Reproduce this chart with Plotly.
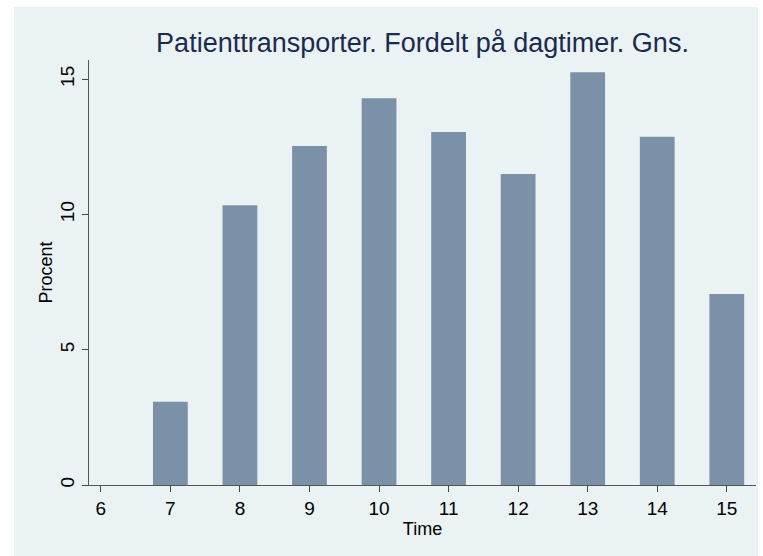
import plotly.graph_objects as go

hours = [6, 7, 8, 9, 10, 11, 12, 13, 14, 15]
procent = [0, 3.08, 10.34, 12.53, 14.30, 13.05, 11.50, 15.26, 12.87, 7.06]
title_text = "Patienttransporter. Fordelt på dagtimer. Gns."
x_title = "Time"
y_title = "Procent"
y_ticks = [0, 5, 10, 15]

W, H = 763, 556
L, R, T, B = 89, 7, 60, 71
pw = W - L - R
ph = H - T - B

def px_x(p):
    return (p - L) / pw

def px_y(p):
    return (H - B - p) / ph

FONT = "Liberation Sans, Arial, sans-serif"

fig = go.Figure()
fig.add_trace(go.Bar(
    x=hours, y=procent, width=0.5,
    marker=dict(color="#7B91A8", line=dict(width=0)),
    hoverinfo="x+y",
))

fig.update_layout(
    width=W, height=H,
    margin=dict(l=L, r=R, t=T, b=B, pad=0),
    paper_bgcolor="white",
    plot_bgcolor="white",
    showlegend=False,
    font=dict(family=FONT, color="#000000"),
    title=dict(text=title_text, x=0.5, xref="paper", y=1 - 43 / H,
               yref="container", xanchor="center", yanchor="middle",
               font=dict(size=27, color="#1C2A4E", family=FONT)),
    shapes=[dict(type="rect", xref="paper", yref="paper",
                 x0=px_x(14), x1=px_x(758), y0=px_y(556), y1=px_y(7),
                 fillcolor="#EAF2F3", line=dict(width=0), layer="below")],
)

fig.update_xaxes(
    range=[5.83, 15.42], tickmode="array", tickvals=hours,
    ticktext=[str(h) for h in hours],
    ticks="outside", ticklen=6, tickwidth=1, tickcolor="#444444",
    showline=True, linecolor="#555555", linewidth=1,
    showgrid=False, zeroline=False, automargin=False,
    tickfont=dict(size=19, family=FONT, color="#000000"),
    title=dict(text=x_title, standoff=0, font=dict(size=18, family=FONT, color="#000000")),
)
fig.update_yaxes(
    range=[0, 15.71], tickmode="array", tickvals=y_ticks,
    ticktext=[str(v) for v in y_ticks], tickangle=-90,
    ticks="outside", ticklen=6, tickwidth=1, tickcolor="#444444",
    showline=True, linecolor="#555555", linewidth=1,
    showgrid=True, gridcolor="#EAF2F3", gridwidth=1, zeroline=False, automargin=False,
    tickfont=dict(size=19, family=FONT, color="#000000"),
    title=dict(text=y_title, standoff=0, font=dict(size=18, family=FONT, color="#000000")),
)

fig.write_html("out.html", config={"displayModeBar": False},
               post_script="document.body.style.margin='0px';")
